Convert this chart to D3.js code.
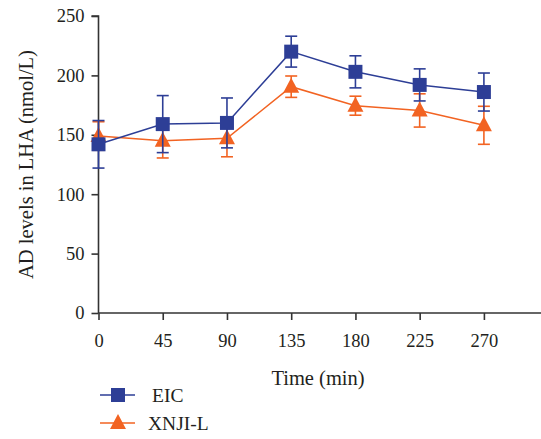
<!DOCTYPE html>
<html>
<head>
<meta charset="utf-8">
<script src="https://cdn.jsdelivr.net/npm/d3@7"></script>
<style>
  body { margin: 0; background: #fff; }
  text { font-family: "Liberation Serif", "DejaVu Serif", serif; fill: #231f20; font-weight: normal; }
</style>
</head>
<body>
<div id="chart"></div>
<script>
// time points (min)
var times = [0, 45, 90, 135, 180, 225, 270];
var xTicks = [0, 45, 90, 135, 180, 225, 270];
var yTicks = [0, 50, 100, 150, 200, 250];

// AD levels (nmol/L), mean and error
var eicMean = [142, 159, 160, 220, 203, 192, 186];
var eicErr  = [20, 24, 21, 13, 13.5, 13.5, 16];
var xnjiMean = [149, 145, 147, 190.5, 174.5, 170.5, 158];
var xnjiErr  = [12, 14.5, 15.5, 9, 8, 14, 16];

var blue = "#2d3e96";
var orange = "#f26322";

var svg = d3.select("#chart").append("svg")
  .attr("width", 541)
  .attr("height", 439);

var x = d3.scaleLinear().domain([0, 310]).range([98.5, 541]);
var y = d3.scaleLinear().domain([0, 250]).range([313, 16]);

var yAxis = d3.axisLeft(y).tickValues(yTicks).tickSize(7).tickPadding(7);
var xAxis = d3.axisBottom(x).tickValues(xTicks).tickSize(7).tickPadding(14);

var gy = svg.append("g").attr("transform", "translate(" + x(0) + ",0)").call(yAxis);
var gx = svg.append("g").attr("transform", "translate(0," + y(0) + ")").call(xAxis);

[gx, gy].forEach(function (g) {
  g.select(".domain").attr("stroke", "#333").attr("stroke-width", 1.6);
  g.selectAll(".tick line").attr("stroke", "#333").attr("stroke-width", 1.6);
  g.selectAll("text").attr("font-size", 18.5).attr("fill", "#231f20");
});
// remove outer tick stub, run the x axis to the right edge
gy.select(".domain").attr("d", "M-7," + y(250) + "H0V" + y(0));
gx.select(".domain").attr("d", "M" + x(0) + ",0H541");

svg.append("text")
  .attr("transform", "translate(33," + ((y(0) + y(250)) / 2) + ") rotate(-90)")
  .attr("text-anchor", "middle")
  .attr("font-size", 20.5)
  .text("AD levels in LHA (nmol/L)");

svg.append("text")
  .attr("x", 318).attr("y", 385)
  .attr("text-anchor", "middle")
  .attr("font-size", 20.5)
  .text("Time (min)");

function series(mean, err, color, shape) {
  var pts = times.map(function (t, i) { return { t: t, m: mean[i], e: err[i] }; });
  var g = svg.append("g");

  g.append("path")
    .datum(pts)
    .attr("fill", "none")
    .attr("stroke", color)
    .attr("stroke-width", 1.5)
    .attr("d", d3.line().x(function (d) { return x(d.t); }).y(function (d) { return y(d.m); }));

  var eb = g.selectAll(".err").data(pts).enter().append("g").attr("stroke", color).attr("stroke-width", 1.6);
  eb.append("line")
    .attr("x1", function (d) { return x(d.t); }).attr("x2", function (d) { return x(d.t); })
    .attr("y1", function (d) { return y(d.m + d.e); }).attr("y2", function (d) { return y(d.m - d.e); });
  eb.append("line")
    .attr("x1", function (d) { return x(d.t) - 6; }).attr("x2", function (d) { return x(d.t) + 6; })
    .attr("y1", function (d) { return y(d.m + d.e); }).attr("y2", function (d) { return y(d.m + d.e); });
  eb.append("line")
    .attr("x1", function (d) { return x(d.t) - 6; }).attr("x2", function (d) { return x(d.t) + 6; })
    .attr("y1", function (d) { return y(d.m - d.e); }).attr("y2", function (d) { return y(d.m - d.e); });

  g.selectAll(".mk").data(pts).enter().append("path")
    .attr("transform", function (d) { return "translate(" + x(d.t) + "," + y(d.m) + ")"; })
    .attr("d", marker(shape))
    .attr("fill", color);
}

function marker(shape) {
  if (shape == "square")
    return "M-7,-7H7V7H-7Z";
  return "M0,-9L8,6H-8Z";
}

series(xnjiMean, xnjiErr, orange, "triangle");
series(eicMean, eicErr, blue, "square");

// legend
var legend = [
  { name: "EIC", color: blue, shape: "square", y: 395, tx: 152 },
  { name: "XNJI-L", color: orange, shape: "triangle", y: 423, tx: 148 }
];
var lg = svg.append("g").selectAll("g").data(legend).enter().append("g")
  .attr("transform", function (d) { return "translate(0," + d.y + ")"; });
lg.append("line").attr("x1", 100).attr("x2", 135).attr("stroke", function (d) { return d.color; }).attr("stroke-width", 1.5);
lg.append("path").attr("transform", "translate(118,0)")
  .attr("d", function (d) { return marker(d.shape); })
  .attr("fill", function (d) { return d.color; });
lg.append("text").attr("x", function (d) { return d.tx; }).attr("y", 7)
  .attr("font-size", 19.5)
  .text(function (d) { return d.name; });
</script>
</body>
</html>
